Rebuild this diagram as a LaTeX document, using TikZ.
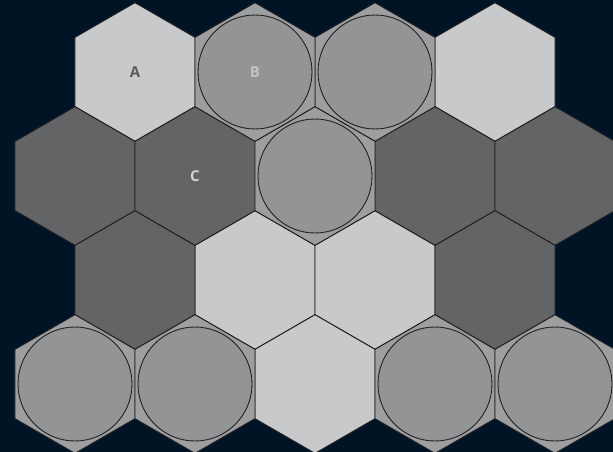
\documentclass[tikz,border=0pt]{standalone}
\usepackage{fontspec}
\setsansfont{Open Sans}
\usetikzlibrary{shapes.geometric}
\definecolor{navy}{HTML}{011426}
\definecolor{paleGrey}{HTML}{C8C9CB}
\definecolor{darkGrey}{HTML}{636466}
\definecolor{midGrey}{HTML}{9D9EA0}
\definecolor{discGrey}{HTML}{939496}
\definecolor{edge}{HTML}{231F20}

\begin{document}
\begin{tikzpicture}[x=1pt, y=-1pt]
    % Define styles for the cells
    \tikzstyle{hex} = [regular polygon, regular polygon sides=6, shape border rotate=30, minimum size=138.6pt, inner sep=0pt, draw=edge, line width=0.9pt, font=\sffamily\bfseries\fontsize{15}{18}\selectfont]
    \tikzstyle{pale hex} = [hex, fill=paleGrey]
    \tikzstyle{dark hex} = [hex, fill=darkGrey]
    \tikzstyle{disc hex} = [hex, fill=midGrey]
    \tikzstyle{disc} = [circle, draw=edge, line width=0.9pt, fill=discGrey, minimum size=114pt, inner sep=0pt, font=\sffamily\bfseries\fontsize{15}{18}\selectfont]

    % Background
    \fill[navy] (0,0) rectangle (613,452);
    \useasboundingbox (0,0) rectangle (613,452);

    % Pale cells
    \foreach \name/\x/\y in {p1/495/72, p2/255/280, p3/375/280, p4/315/384}
        \node[pale hex] (\name) at (\x,\y) {};
    \node[pale hex, text=darkGrey!90!black] (a) at (135,72) {A};

    % Dark cells
    \foreach \name/\x/\y in {d1/75/176, d2/435/176, d3/555/176, d4/135/280, d5/495/280}
        \node[dark hex] (\name) at (\x,\y) {};
    \node[dark hex, text=paleGrey!80!white] (c) at (195,176) {C};

    % Cells holding a disc
    \foreach \name/\x/\y in {m1/375/72, m2/315/176, m3/75/384, m4/195/384, m5/435/384, m6/555/384}{
        \node[disc hex] (\name) at (\x,\y) {};
        \node[disc] (\name-disc) at (\name.center) {};
    }
    \node[disc hex] (b) at (255,72) {};
    \node[disc, text=paleGrey!90!discGrey] (b-disc) at (b.center) {B};
\end{tikzpicture}
\end{document}
